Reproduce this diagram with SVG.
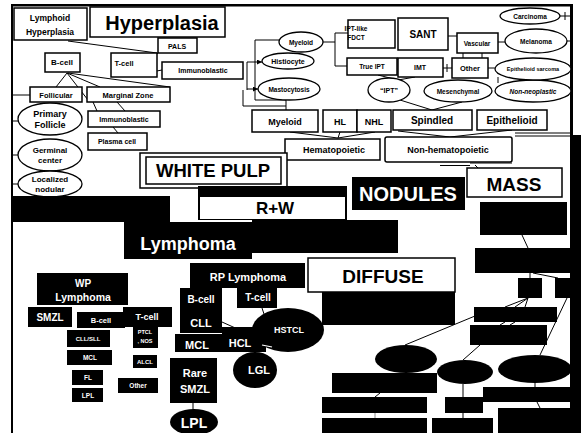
<svg xmlns="http://www.w3.org/2000/svg" width="581" height="433" viewBox="0 0 581 433">
<defs>
<style>
.bx{fill:#fff;stroke:#000;stroke-width:1.5}
.bk{fill:#000}
.el{fill:#fff;stroke:#000;stroke-width:1.3}
.t{font-family:"Liberation Sans",Arial,sans-serif;font-weight:bold;text-anchor:middle;fill:#000}
.w{fill:#fff}
.c{stroke:#000;stroke-width:1;fill:none}
.cw{stroke:#fff;stroke-width:1.2;fill:none}
</style>
<marker id="ah" viewBox="0 0 6 6" refX="6" refY="3" markerWidth="5" markerHeight="5" orient="auto"><path d="M0,0 L6,3 L0,6 z" fill="#000"/></marker>
</defs>
<rect width="581" height="433" fill="#fff"/>

<!-- frame -->
<g id="frame">
<rect x="11" y="4" width="562" height="2.5" class="bk"/>
<rect x="11" y="4" width="2" height="429" class="bk"/>
<rect x="570" y="4" width="3" height="135" class="bk"/>
<rect x="570" y="135" width="11" height="298" class="bk"/>
</g>

<!-- connectors -->
<g id="connectors">
<path class="c" d="M68 41 L157 53 M158 53 L135 75 M135 75 L200 63"/>
<path class="c" d="M67 73 L56 87 M67 73 L88 100 M67 73 L100 87 M68 73 L170 87"/>
<path class="c" d="M93 102 L97 111 M117 102 L125 111 M113 127 L118 133"/>
<path class="c" d="M13 95 H30 M13 121 H18 M13 155 H18 M13 184 H18"/>
<path class="c" d="M280 40 H255 V100 H286 V110 M243 90 V106 H286"/>
<path class="c" d="M247 62 V90" />
<path class="c" marker-end="url(#ah)" d="M247 62 H262"/>
<path class="c" marker-end="url(#ah)" d="M247 89 H258"/>
<path class="c" d="M323 42 H335 M335 33 V66 M335 33 H348 M335 66 H347"/>
<path class="c" d="M448 36 H457 M463 53 V58 M482 53 V58 M443 68 H452 M447 64 V72 M498 42 H505 M488 68 H495 M560 16 H570 M565 12 V20 M567 41 H570 M498 77 V83"/>
<path class="c" d="M378 75 L398 80 M415 77 L398 80 M400 100 L432 110 M462 102 L432 110"/>
<path class="c" d="M290 132 L338 138 M340 132 L338 138 M375 132 L338 138 M398 131 L450 137 M512 130 L450 137"/>
<path class="c" d="M470 163 H512 M440 165.5 H470 M475 165 L478 168 M515 133 H570 M515 136 H570"/>
<path class="c" d="M522 235 L528 248 M530 273 V278 M533 273 L558 278 M528 298 L505 307 M528 298 L515 307 M528 298 L525 307 M567 298 L540 355 M475 316 L405 345 M505 322 L500 325 M515 322 L510 325 M480 345 L463 360 M380 393 L375 397 M463 384 V397 M463 413 V418 M535 383 V387 M537 402 L540 408"/>
<path stroke="#888" stroke-width="1" d="M375 413 V418"/>
<path class="c" d="M193 402 V410 M262 308 L264 314"/>
</g>

<!-- top-left hyperplasia -->
<g id="n-lymphoid-hyperplasia"><rect class="bx" x="14" y="8" width="73" height="32"/><text class="t" x="50" y="21" font-size="8.5">Lymphoid</text><text class="t" x="50" y="35" font-size="8.5">Hyperplasia</text></g>
<g id="n-hyperplasia"><rect class="bx" x="90" y="7" width="135" height="30"/><text class="t" x="162" y="30" font-size="20">Hyperplasia</text></g>
<g id="n-pals"><rect class="bx" x="158" y="38" width="39" height="15"/><text class="t" x="177" y="49" font-size="7">PALS</text></g>
<g id="n-tcell"><rect class="bx" x="111" y="53" width="46" height="24"/><text class="t" x="124" y="66" font-size="7.5">T-cell</text></g>
<g id="n-immuno1"><rect class="bx" x="162" y="62" width="81" height="17"/><text class="t" x="203" y="73" font-size="7">Immunoblastic</text></g>
<g id="n-bcell"><rect class="bx" x="45" y="53" width="35" height="19"/><text class="t" x="62" y="65" font-size="8">B-cell</text></g>
<g id="n-follicular"><rect class="bx" x="30" y="87" width="52" height="15"/><text class="t" x="56" y="97.5" font-size="7.5">Follicular</text></g>
<g id="n-marginal"><rect class="bx" x="87" y="87" width="83" height="15"/><text class="t" x="128" y="97.5" font-size="7.5">Marginal Zone</text></g>
<g id="n-immuno2"><rect class="bx" x="88" y="111" width="72" height="16"/><text class="t" x="124" y="121.5" font-size="7">Immunoblastic</text></g>
<g id="n-plasma"><rect class="bx" x="88" y="133" width="59" height="17"/><text class="t" x="117" y="144" font-size="7">Plasma cell</text></g>
<g id="n-primary"><ellipse class="el" cx="50" cy="119" rx="32" ry="16"/><text class="t" x="50" y="117" font-size="9">Primary</text><text class="t" x="50" y="128" font-size="9">Follicle</text></g>
<g id="n-germinal"><ellipse class="el" cx="50" cy="155" rx="32" ry="16"/><text class="t" x="50" y="153" font-size="8">Germinal</text><text class="t" x="50" y="163" font-size="8">center</text></g>
<g id="n-localized"><ellipse class="el" cx="50" cy="184" rx="32" ry="13"/><text class="t" x="50" y="182" font-size="8">Localized</text><text class="t" x="50" y="192" font-size="8">nodular</text></g>

<!-- top-middle / right -->
<g id="n-myeloid-e"><ellipse class="el" cx="301" cy="42" rx="22" ry="10"/><text class="t" x="301" y="44.5" font-size="6.5">Myeloid</text></g>
<g id="n-histiocyte"><ellipse class="el" cx="288" cy="61" rx="26" ry="8"/><text class="t" x="288" y="63.5" font-size="7">Histiocyte</text></g>
<g id="n-mastocytosis"><ellipse class="el" cx="289" cy="89" rx="31" ry="11"/><text class="t" x="289" y="91.5" font-size="6.5">Mastocytosis</text></g>
<g id="n-iptlike"><rect class="bx" x="348" y="20" width="47" height="28"/><text class="t" x="356" y="31" font-size="6.5" text-anchor="start">IPT-like</text><text class="t" x="356" y="40" font-size="6.5" text-anchor="start">FDCT</text></g>
<g id="n-sant"><rect class="bx" x="398" y="18" width="50" height="32"/><text class="t" x="423" y="38" font-size="10">SANT</text></g>
<g id="n-trueipt"><rect class="bx" x="347" y="58" width="50" height="17"/><text class="t" x="372" y="69" font-size="6.5">True IPT</text></g>
<g id="n-imt"><rect class="bx" x="398" y="58" width="45" height="19"/><text class="t" x="420" y="70" font-size="7">IMT</text></g>
<g id="n-vascular"><rect class="bx" x="457" y="33" width="41" height="20"/><text class="t" x="477" y="46" font-size="6.5">Vascular</text></g>
<g id="n-other"><rect class="bx" x="452" y="58" width="36" height="20"/><text class="t" x="470" y="71" font-size="7.5">Other</text></g>
<g id="n-ipt"><ellipse class="el" cx="389" cy="90" rx="21" ry="12"/><text class="t" x="389" y="92.5" font-size="7">“IPT”</text></g>
<g id="n-mesenchymal"><ellipse class="el" cx="458" cy="91" rx="34" ry="11"/><text class="t" x="458" y="93.5" font-size="6.5">Mesenchymal</text></g>
<g id="n-nonneoplastic"><ellipse class="el" cx="533" cy="91" rx="38" ry="11"/><text class="t" x="533" y="93.5" font-size="6.5" font-style="italic">Non-neoplastic</text></g>
<g id="n-carcinoma"><ellipse class="el" cx="530" cy="16" rx="30" ry="8"/><text class="t" x="530" y="18.5" font-size="6.5">Carcinoma</text></g>
<g id="n-melanoma"><ellipse class="el" cx="536" cy="41" rx="31" ry="12"/><text class="t" x="536" y="43.5" font-size="6.5">Melanoma</text></g>
<g id="n-episarcoma"><ellipse class="el" cx="533" cy="69" rx="38" ry="11"/><text class="t" x="533" y="71" font-size="5.5">Epithelioid sarcoma</text></g>

<g id="n-myeloid-b"><rect class="bx" x="252" y="110" width="66" height="22"/><text class="t" x="285" y="125" font-size="9">Myeloid</text></g>
<g id="n-hl"><rect class="bx" x="323" y="110" width="34" height="22"/><text class="t" x="340" y="125" font-size="9">HL</text></g>
<g id="n-nhl"><rect class="bx" x="357" y="110" width="34" height="22"/><text class="t" x="374" y="125" font-size="9">NHL</text></g>
<g id="n-spindled"><rect class="bx" x="393" y="110" width="79" height="20"/><text class="t" x="432" y="124" font-size="10">Spindled</text></g>
<g id="n-epithelioid"><rect class="bx" x="477" y="110" width="70" height="20"/><text class="t" x="512" y="124" font-size="10">Epithelioid</text></g>
<g id="n-hemato"><rect class="bx" x="285" y="139" width="95" height="21"/><text class="t" x="334" y="153" font-size="9">Hematopoietic</text></g>
<g id="n-nonhemato"><rect class="bx" x="385" y="137" width="127" height="25" rx="2"/><text class="t" x="448" y="153" font-size="9">Non-hematopoietic</text></g>

<!-- mid headings -->
<g id="n-whitepulp"><rect class="bx" x="140" y="153" width="147" height="35"/><rect class="bx" x="146" y="157" width="135" height="27" stroke-width="1"/><text class="t" x="213" y="177" font-size="18.5">WHITE PULP</text></g>
<g id="n-rw"><rect class="bk" x="198" y="186" width="149" height="34"/><rect fill="#fff" x="200" y="197" width="145" height="22"/><text class="t" x="275" y="214" font-size="17">R+W</text></g>
<g id="n-nodules"><rect class="bk" x="352" y="177" width="113" height="33"/><text class="t w" x="408" y="201" font-size="20">NODULES</text></g>
<g id="n-mass"><rect class="bx" x="467" y="168" width="95" height="29"/><text class="t" x="514" y="191" font-size="19">MASS</text></g>
<g id="n-lymphoma"><rect class="bk" x="12" y="196" width="158" height="26"/><rect class="bk" x="124" y="222" width="128" height="37"/><rect class="bk" x="252" y="220" width="146" height="33"/><text class="t w" x="188" y="250" font-size="18">Lymphoma</text></g>
<g id="n-diffuse"><rect class="bx" x="308" y="258" width="147" height="34"/><rect class="bk" x="322" y="292" width="133" height="33"/><text class="t" x="383" y="283" font-size="19">DIFFUSE</text></g>

<!-- WP lymphoma -->
<g id="n-wp"><rect class="bk" x="37" y="273" width="91" height="32"/><text class="t w" x="83" y="287" font-size="10">WP</text><text class="t w" x="83" y="301" font-size="10.5">Lymphoma</text></g>
<g id="n-wp-smzl"><rect class="bk" x="28" y="307" width="44" height="20"/><text class="t w" x="50" y="321" font-size="10">SMZL</text></g>
<g id="n-wp-bcell"><rect class="bk" x="77" y="312" width="48" height="16"/><text class="t w" x="101" y="323" font-size="7.5">B-cell</text></g>
<g id="n-wp-tcell"><rect class="bk" x="123" y="307" width="49" height="20"/><text class="t w" x="147" y="320" font-size="9">T-cell</text></g>
<g id="n-cllsll"><rect class="bk" x="67" y="330" width="43" height="17"/><text class="t w" x="88" y="341" font-size="6">CLL/SLL</text></g>
<g id="n-ptcl"><rect class="bk" x="133" y="325" width="25" height="23"/><text class="t w" x="145" y="334" font-size="5.5">PTCL</text><text class="t w" x="145" y="343" font-size="5.5">, NOS</text></g>
<g id="n-wp-mcl"><rect class="bk" x="67" y="350" width="45" height="15"/><text class="t w" x="90" y="360" font-size="6.5">MCL</text></g>
<g id="n-alcl"><rect class="bk" x="133" y="355" width="24" height="13"/><text class="t w" x="145" y="364" font-size="6">ALCL</text></g>
<g id="n-fl"><rect class="bk" x="72" y="370" width="31" height="15"/><text class="t w" x="88" y="380" font-size="6.5">FL</text></g>
<g id="n-wp-lpl"><rect class="bk" x="72" y="388" width="31" height="14"/><text class="t w" x="88" y="398" font-size="6.5">LPL</text></g>
<g id="n-wp-other"><rect class="bk" x="118" y="378" width="40" height="15"/><text class="t w" x="138" y="388" font-size="6.5">Other</text></g>

<!-- RP lymphoma -->
<g id="n-rp"><rect class="bk" x="190" y="263" width="115" height="25"/><text class="t w" x="248" y="281" font-size="11">RP Lymphoma</text></g>
<g id="n-rp-bcell"><rect class="bk" x="180" y="288" width="42" height="45"/><text class="t w" x="201" y="303" font-size="10">B-cell</text><text class="t w" x="201" y="327" font-size="11">CLL</text></g>
<g id="n-rp-tcell"><rect class="bk" x="237" y="287" width="40" height="21"/><text class="t w" x="258" y="301" font-size="10">T-cell</text></g>
<g id="n-hstcl"><ellipse class="bk" cx="288" cy="330" rx="36" ry="22"/><text class="t w" x="289" y="333" font-size="9">HSTCL</text></g>
<g id="n-hcl"><rect class="bk" x="216" y="327" width="50" height="25"/><text class="t w" x="240" y="347" font-size="11">HCL</text></g>
<g id="n-rp-mcl"><rect class="bk" x="175" y="334" width="45" height="18"/><text class="t w" x="197" y="349" font-size="11">MCL</text></g>
<g id="n-lgl"><ellipse class="bk" cx="255" cy="370" rx="22" ry="18"/><text class="t w" x="259" y="374" font-size="11">LGL</text></g>
<g id="n-raresmzl"><rect class="bk" x="170" y="358" width="47" height="45"/><text class="t w" x="195" y="377" font-size="11">Rare</text><text class="t w" x="195" y="393" font-size="11">SMZL</text></g>
<g id="n-rp-lpl"><ellipse class="bk" cx="194" cy="422" rx="24" ry="13"/><text class="t w" x="194" y="428" font-size="14">LPL</text></g>
<g id="rp-links"><path class="cw" d="M176 333.5 H222"/><path class="c" stroke="#000" d="M222 322 L242 331"/><path class="cw" d="M262 345 L272 347"/></g>

<!-- mass cluster (blank) -->
<g id="n-m1"><rect class="bk" x="480" y="202" width="87" height="33"/></g>
<g id="n-m2"><rect class="bk" x="475" y="248" width="95" height="25"/></g>
<g id="n-m3"><rect class="bk" x="518" y="278" width="24" height="20"/></g>
<g id="n-m4"><rect class="bk" x="555" y="278" width="15" height="20"/></g>
<g id="n-m5"><rect class="bk" x="474" y="307" width="83" height="15"/></g>
<g id="n-m6"><rect class="bk" x="470" y="325" width="77" height="20"/></g>
<g id="n-m7"><ellipse class="bk" cx="406" cy="359" rx="31" ry="14"/></g>
<g id="n-m8"><ellipse class="bk" cx="465" cy="372" rx="28" ry="12"/></g>
<g id="n-m9"><ellipse class="bk" cx="535" cy="369" rx="37" ry="14"/></g>
<g id="n-m10"><rect class="bk" x="332" y="373" width="105" height="20"/></g>
<g id="n-m11"><rect class="bk" x="483" y="387" width="87" height="15"/></g>
<g id="n-m12"><rect class="bk" x="322" y="397" width="105" height="16"/></g>
<g id="n-m13"><rect class="bk" x="445" y="397" width="38" height="16"/></g>
<g id="n-m14"><rect class="bk" x="322" y="418" width="105" height="15"/></g>
<g id="n-m15"><rect class="bk" x="432" y="418" width="61" height="15"/></g>
<g id="n-m16"><rect class="bk" x="498" y="408" width="72" height="25"/></g>
</svg>
